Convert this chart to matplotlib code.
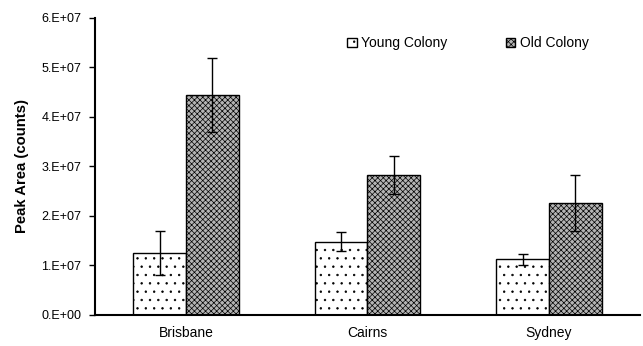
import numpy as np
import matplotlib
matplotlib.use("Agg")
import matplotlib.pyplot as plt

plt.rcParams['font.family'] = ['Liberation Sans', 'DejaVu Sans']
plt.rcParams['hatch.linewidth'] = 0.5

sites = ["Brisbane", "Cairns", "Sydney"]
young = [1.25e7, 1.48e7, 1.12e7]
young_err = [0.44e7, 0.19e7, 0.11e7]
old = [4.44e7, 2.83e7, 2.26e7]
old_err = [0.75e7, 0.38e7, 0.56e7]
yticks = [0, 1e7, 2e7, 3e7, 4e7, 5e7, 6e7]
ylabels = ["0.E+00", "1.E+07", "2.E+07", "3.E+07", "4.E+07", "5.E+07", "6.E+07"]

fig = plt.figure(figsize=(6.43, 3.46), dpi=100)
ax = fig.add_axes([0.148, 0.09, 0.847, 0.858])

x = np.arange(len(sites))
w = 0.29
b1 = ax.bar(x - w/2, young, w, color="white", edgecolor="black", hatch="..",
            linewidth=1, label="Young Colony")
b2 = ax.bar(x + w/2, old, w, color="#b4b4b4", edgecolor="black", hatch="xxxxxx",
            linewidth=1, label="Old Colony")
ax.errorbar(x - w/2, young, yerr=young_err, fmt="none", ecolor="black",
            elinewidth=1, capsize=3.5, capthick=1)
ax.errorbar(x + w/2, old, yerr=old_err, fmt="none", ecolor="black",
            elinewidth=1, capsize=3.5, capthick=1)

ax.set_xlim(-0.5, 2.5)
ax.set_ylim(0, 6e7)
ax.set_yticks(yticks)
ax.set_yticklabels(ylabels, fontsize=9)
ax.set_xticks(x)
ax.set_xticklabels(sites, fontsize=10)
ax.tick_params(axis="x", length=0, pad=8)
ax.tick_params(axis="y", length=4, width=1, direction="out", pad=6)
ax.spines["top"].set_visible(False)
ax.spines["right"].set_visible(False)
ax.spines["left"].set_linewidth(1.5)
ax.spines["bottom"].set_linewidth(1.5)
ax.set_ylabel("Peak Area (counts)", fontsize=10.7, fontweight="bold", labelpad=9)

ax.legend(loc="upper left", bbox_to_anchor=(0.44, 0.98), ncol=2, frameon=False,
          fontsize=10, handlelength=0.7, handleheight=0.7, handletextpad=0.3,
          columnspacing=4.2)

fig.savefig("out.png", dpi=100)
